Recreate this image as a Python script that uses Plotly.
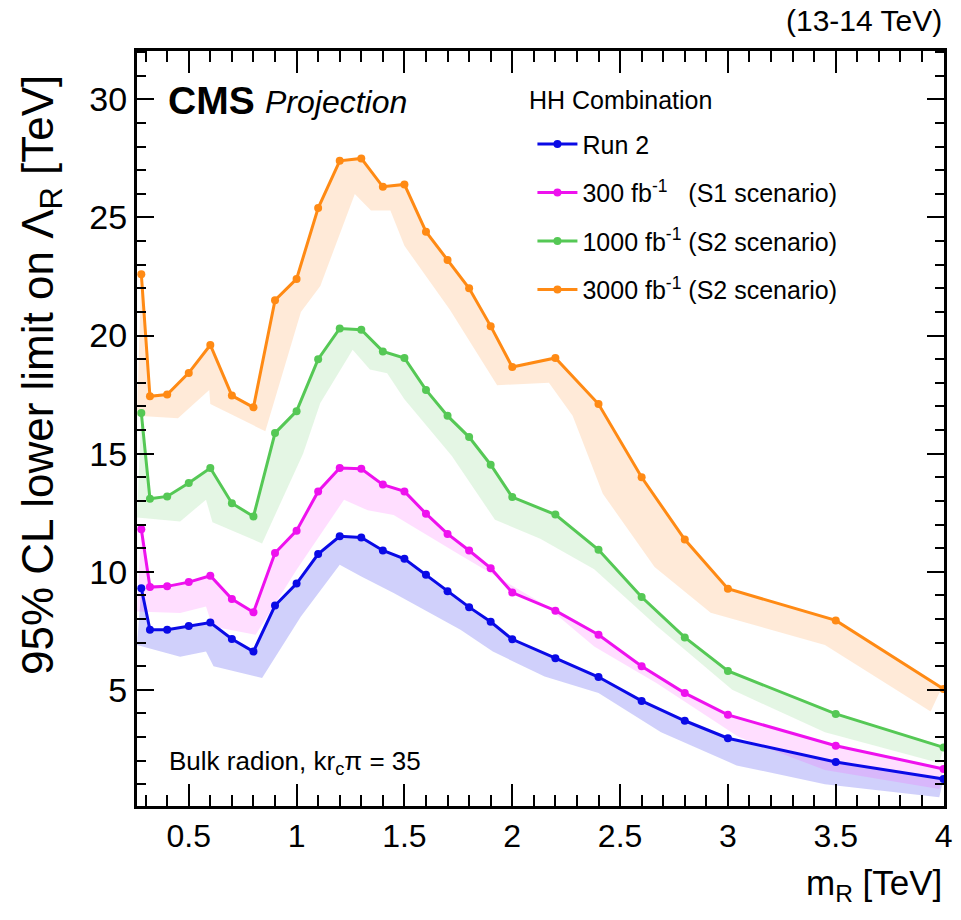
import plotly.graph_objects as go

# ---------------- data ----------------
mass = [0.28, 0.32, 0.4, 0.5, 0.6, 0.7, 0.8, 0.9, 1.0, 1.1, 1.2, 1.3, 1.4, 1.5,
        1.6, 1.7, 1.8, 1.9, 2.0, 2.2, 2.4, 2.6, 2.8, 3.0, 3.5, 4.0]

run2 = [9.3, 7.54, 7.54, 7.7, 7.85, 7.15, 6.62, 8.57, 9.5, 10.75, 11.5, 11.45, 10.9, 10.55,
        9.87, 9.17, 8.5, 7.88, 7.14, 6.34, 5.54, 4.53, 3.69, 2.95, 1.94, 1.22]
s1_300 = [11.8, 9.35, 9.38, 9.56, 9.83, 8.84, 8.28, 10.79, 11.74, 13.4, 14.39, 14.36, 13.69, 13.4,
          12.46, 11.6, 10.9, 10.15, 9.12, 8.35, 7.33, 6.0, 4.86, 3.94, 2.63, 1.65]
s2_1000 = [16.72, 13.09, 13.19, 13.76, 14.39, 12.9, 12.34, 15.87, 16.8, 19.0, 20.3, 20.25, 19.33, 19.05,
           17.7, 16.6, 15.7, 14.53, 13.16, 12.42, 10.93, 8.93, 7.22, 5.8, 3.98, 2.56]
s2_3000 = [22.6, 17.43, 17.5, 18.42, 19.6, 17.46, 16.96, 21.5, 22.4, 25.4, 27.4, 27.5, 26.3, 26.4,
           24.4, 23.2, 22.0, 20.4, 18.67, 19.05, 17.1, 14.0, 11.36, 9.28, 7.94, 5.03]

# lower edges of the shaded bands (their own x positions, as drawn)
run2_lo_x = [0.26, 0.46, 0.58, 0.615, 0.84, 1.02, 1.2, 1.3, 1.45, 1.76, 1.91, 2.15, 2.4, 2.69, 3.04, 3.45, 3.98]
run2_lo_y = [6.9, 6.4, 6.62, 6.0, 5.5, 8.1, 10.3, 9.8, 9.1, 7.54, 6.62, 5.56, 4.86, 3.2, 1.8, 1.0, 0.45]
s1_300_lo_x = [0.26, 0.46, 0.58, 0.61, 0.81, 1.0, 1.22, 1.33, 1.45, 1.76, 2.15, 2.38, 2.67, 3.05, 3.45, 3.98]
s1_300_lo_y = [8.32, 8.25, 8.53, 7.68, 7.33, 10.08, 13.05, 12.6, 12.4, 10.7, 8.6, 6.83, 5.28, 3.0, 1.6, 0.8]
s2_1000_lo_x = [0.26, 0.46, 0.58, 0.61, 0.84, 1.03, 1.11, 1.26, 1.34, 1.42, 1.5, 1.72, 1.92, 2.13, 2.38, 2.67, 3.02, 3.45, 3.98]
s2_1000_lo_y = [12.3, 12.13, 13.05, 12.1, 11.2, 15.0, 17.15, 19.4, 18.56, 18.4, 17.3, 14.9, 12.2, 11.4, 10.1, 7.7, 5.0, 3.2, 1.9]
s2_3000_lo_x = [0.26, 0.45, 0.595, 0.6, 0.855, 1.02, 1.11, 1.27, 1.345, 1.435, 1.5, 1.71, 1.93, 2.17, 2.28, 2.42, 2.66, 2.92, 3.45, 3.94, 3.98]
s2_3000_lo_y = [16.6, 16.5, 17.7, 17.1, 15.95, 21.0, 22.1, 26.0, 25.3, 25.3, 23.8, 21.1, 17.9, 18.0, 16.6, 13.3, 10.2, 8.26, 6.9, 4.08, 4.87]

names = ["Run 2",
         "300 fb<sup>-1</sup>   (S1 scenario)",
         "1000 fb<sup>-1</sup> (S2 scenario)",
         "3000 fb<sup>-1</sup> (S2 scenario)"]
legend_title = "HH Combination"

series = [run2, s1_300, s2_1000, s2_3000]
lows = [(run2_lo_x, run2_lo_y), (s1_300_lo_x, s1_300_lo_y),
        (s2_1000_lo_x, s2_1000_lo_y), (s2_3000_lo_x, s2_3000_lo_y)]
line_colors = ["#0a0ae6", "#ee11ee", "#55c855", "#ff8a14"]
band_colors = ["rgba(40,40,235,0.22)", "rgba(255,60,255,0.17)",
               "rgba(90,200,90,0.16)", "rgba(255,150,60,0.20)"]

FONT = "Liberation Sans, Arial, Helvetica, sans-serif"

fig = go.Figure()

# bands
for ys, (lx, ly), bc in zip(series, lows, band_colors):
    fig.add_trace(go.Scatter(
        x=list(mass) + list(reversed(lx)),
        y=list(ys) + list(reversed(ly)),
        mode="lines", fill="toself", fillcolor=bc,
        line=dict(width=0), hoverinfo="skip", showlegend=False))

# lines
for i, (ys, name, lc) in enumerate(zip(series, names, line_colors)):
    fig.add_trace(go.Scatter(
        x=mass, y=ys, mode="lines+markers", name=name,
        line=dict(color=lc, width=3),
        marker=dict(color=lc, size=8),
        legendgroup=str(i)))

fig.update_layout(
    width=961, height=920,
    margin=dict(l=137, r=9, t=51, b=114),
    paper_bgcolor="white", plot_bgcolor="white",
    font=dict(family=FONT, color="black"),
    legend=dict(
        x=0.490, y=0.907, xanchor="left", yanchor="top",
        font=dict(size=25, family=FONT),
        bgcolor="rgba(0,0,0,0)", tracegroupgap=13, itemwidth=40),
)

fig.update_xaxes(
    range=[0.26, 4.002], showgrid=False, zeroline=False,
    showline=True, linewidth=3, linecolor="black", mirror="ticks",
    ticks="inside", ticklen=22, tickwidth=2, tickcolor="black",
    tick0=0.5, dtick=0.5,
    tickfont=dict(size=32, family=FONT),
    minor=dict(ticks="inside", ticklen=11, tickwidth=1.5, tickcolor="black", dtick=0.1, tick0=0),
)
fig.update_yaxes(
    range=[0.08, 32.05], showgrid=False, zeroline=False,
    showline=True, linewidth=3, linecolor="black", mirror="ticks",
    ticks="inside", ticklen=17, tickwidth=2, tickcolor="black",
    tick0=5, dtick=5,
    tickfont=dict(size=34, family=FONT),
    minor=dict(ticks="inside", ticklen=9, tickwidth=1.5, tickcolor="black", dtick=1, tick0=0),
)

ann = [
    dict(text="(13-14 TeV)", x=1.0, y=1.041, xanchor="right", yanchor="middle",
         font=dict(size=30)),
    dict(text="<b>CMS</b>", x=(166 - 137) / 815, y=0.935, xanchor="left", yanchor="middle",
         font=dict(size=39)),
    dict(text="<i>Projection</i>", x=(264 - 137) / 815, y=0.932, xanchor="left", yanchor="middle",
         font=dict(size=32)),
    dict(text=legend_title, x=(531 - 137) / 815, y=(806 - 100) / 755, xanchor="left", yanchor="middle",
         font=dict(size=25)),
    dict(text="Bulk radion, kr<sub>c</sub>π = 35", x=(167 - 137) / 815, y=0.058,
         xanchor="left", yanchor="middle", font=dict(size=26)),
    dict(text="95% CL lower limit on Λ<sub>R</sub> [TeV]", textangle=-90,
         x=(40 - 137) / 815, y=(806 - 375) / 755, xanchor="center", yanchor="middle",
         font=dict(size=44)),
    dict(text="m<sub>R</sub> [TeV]", x=1.0, y=(806 - 885) / 755, xanchor="right", yanchor="middle",
         font=dict(size=35)),
]
for a in ann:
    a.update(xref="paper", yref="paper", showarrow=False)
    fig.add_annotation(**a)

fig.write_html("out.html")
